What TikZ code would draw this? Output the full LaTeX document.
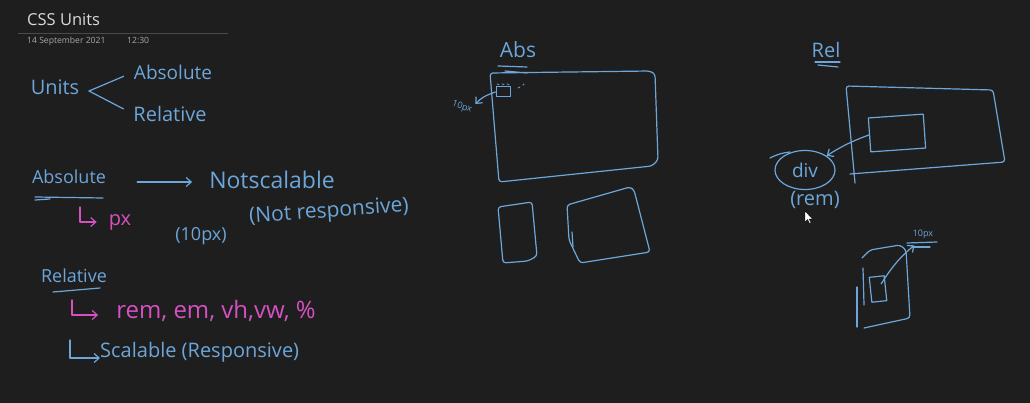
\documentclass[tikz,border=0pt]{standalone}
\usepackage{fontspec}
\setmainfont{Open Sans}
\usetikzlibrary{arrows.meta,positioning,shapes.geometric}

\definecolor{board}{HTML}{1E1E1E}
\definecolor{ink}{HTML}{6CA6DA}
\definecolor{pinkink}{HTML}{D650C2}
\definecolor{titlegray}{HTML}{DADADA}
\definecolor{dategray}{HTML}{A8A8A8}
\definecolor{rulegray}{HTML}{4A4A4A}

\begin{document}
\begin{tikzpicture}[
  x=1pt, y=-1pt,
  pen/.style={draw=ink, line width=1.2pt, line cap=round, line join=round},
  mpen/.style={pen, draw=pinkink},
  hand/.style={text=ink, inner sep=0pt, font=\fontsize{#1}{#1}\selectfont},
  hand/.default=18,
  mhand/.style={hand=#1, text=pinkink},
  mhand/.default=18,
  barb/.style={-{Straight Barb[length=5pt, width=9pt]}},
  sketch/.style={pen, rounded corners=3pt}
]
\fill[board] (0,0) rectangle (1030,403);
\useasboundingbox (0,0) rectangle (1030,403);

% --- page header -----------------------------------------------------------
\node[anchor=base west, inner sep=0pt, text=titlegray, font=\fontsize{16.5}{18}\selectfont] (title) at (27,26) {CSS Units};
\draw[rulegray, line width=0.8pt] (18,33) -- (228,33);
\node[anchor=base west, inner sep=0pt, text=dategray, font=\fontsize{8.6}{10}\selectfont] (date) at (27,44) {14 September 2021};
\node[anchor=base west, inner sep=0pt, text=dategray, font=\fontsize{8.6}{10}\selectfont] (time) at (127,44) {12:30};

% --- left notes --------------------------------------------------------------
\node[hand=20] (units) at (55,87) {Units};
\node[hand=19] (absA) at (173,72) {Absolute};
\node[hand=20] (relA) at (170,114) {Relative};
\coordinate (fork) at (89,91);
\foreach \t in {absA,relA} \draw[pen, shorten >=11pt] (fork) -- (\t.west);

\node[hand=18] (absB) at (69,177) {Absolute};
\draw[pen] (35,197) -- (103,198);
\draw[pen] (35,200) -- (50,199);
\node[hand=23] (notsc) at (272,180) {Notscalable};
\draw[pen, barb, shorten <=31pt, shorten >=17pt] ([yshift=-5pt]absB.east) -- ([yshift=-5pt]absB.east -| notsc.west);
\node[mhand=20] (px) at (120,222) {px};
\coordinate (pxL) at (80,207);
\draw[mpen, barb, shorten >=12pt] (pxL) |- (px.west);
\node[hand=18] (tenpx) at (201,236) {(10px)};
\node[hand=21, rotate=4] (notresp) at (329,212) {(Not responsive)};

\node[hand=18] (relB) at (74,276) {Relative};
\draw[pen] (53,292) -- (100,288);
\node[mhand=24] (rem) at (216,311) {rem, em, vh,vw, \%};
\coordinate (remL) at (72,300);
\draw[mpen, barb, shorten >=18pt] (remL) |- ([yshift=-4pt]rem.west);
\node[hand=20, anchor=west] (scal) at (100,352) {Scalable (Responsive)};
\coordinate (scL) at (70,340);
\draw[pen, barb] (scL) |- ([yshift=-6pt]scal.west);

% --- Abs sketch ----------------------------------------------------------------
\node[hand=21] (abs) at (518,50) {Abs};
\draw[pen] (498,66) -- (527,67);
\draw[pen] (505,71) -- (527,73);
\draw[sketch] (490,73) -- (650,71) -- (655,74) -- (658,160) -- (652,166) -- (499,182) -- cycle;
\node[pen, line width=1pt, minimum width=14pt, minimum height=10pt, inner sep=0pt] (sbox) at (503,92) {};
\foreach \d in {497,502,507} \draw[pen, line width=0.8pt] (\d,84) -- (\d+2,84.5);
\draw[pen, line width=0.8pt] (518,88) -- (520,87);
\draw[pen, line width=0.8pt] (523,85) -- (524,84);
\node[hand=9, rotate=-20] (tenA) at (462,107) {10px};
\draw[pen, barb, shorten >=3pt] (sbox.west) to[bend right=15] (tenA.north east);
\draw[sketch] (498,207) -- (532,202) -- (537,256) -- (528,261) -- (503,263) -- cycle;
\draw[sketch] (567,205) -- (630,187) -- (634,190) -- (650,252) -- (580,263) -- (569,240) -- cycle;
\draw[pen] (572,232) -- (573,247);

% --- Rel sketch ----------------------------------------------------------------
\node[hand=20] (rel) at (826,50) {Rel};
\draw[pen] (815,62) -- (840,62);
\draw[pen] (818,65) -- (838,67);
\draw[sketch] (855,183) -- (846,86) -- (993,90) -- (1005,162) -- (850,174);
\node[pen, minimum width=55pt, minimum height=34pt, rotate=4] (relin) at (897,133) {};
\node[pen, ellipse, minimum width=60pt, minimum height=39pt, hand=19] (divE) at (805,170) {div};
\draw[pen] (770,158) to[bend left=10] (790,152);
\draw[pen, barb] (relin.west) to[bend right=6] (divE.north east);
\node[hand=20] (remB) at (815,200) {(rem)};
\filldraw[fill=white, draw=black, line width=0.4pt, shift={(805,211)}]
  (0,0) -- (0,11) -- (2.6,8.5) -- (4.5,12.5) -- (6,11.8) -- (4.2,8) -- (7.5,8) -- cycle;

% --- phone sketch --------------------------------------------------------------
\draw[sketch] (862,258) -- (870,250) -- (900,245) -- (906,250) -- (910,318) -- (864,328);
\draw[pen] (857,287) -- (857,327);
\draw[pen] (863,268) -- (864,305);
\node[pen, minimum width=15pt, minimum height=25pt, rotate=6] (phin) at (878,289) {};
\node[hand=9] (tenB) at (923,234) {10px};
\draw[pen] (907,243) -- (937,242);
\draw[pen] (912,247) -- (930,247);
\draw[pen, barb, shorten <=6pt, shorten >=11pt] (phin.center) to[bend left=10] (tenB.south);
\end{tikzpicture}
\end{document}
